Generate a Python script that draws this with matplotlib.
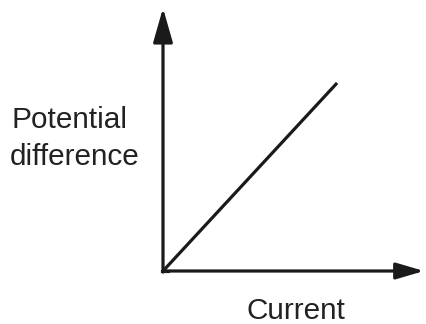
import matplotlib
matplotlib.use("Agg")
import matplotlib.pyplot as plt
from matplotlib.patches import FancyArrowPatch

# Data: proportional relation (Ohm's law sketch)
current = [0.0, 0.667]
potential_difference = [0.0, 0.715]
x_label = "Current"
y_label = "Potential\ndifference"

W, H = 426, 324
fig = plt.figure(figsize=(W / 100, H / 100), dpi=100)
fig.patch.set_facecolor("white")

ox, oy = 163, 271      # origin in pixels (from top-left)
xt, yt = 424, 8        # arrow tips
ax = fig.add_axes([ox / W, 1 - oy / H, (xt - ox) / W, (oy - yt) / H])
ax.set_xlim(0, 1)
ax.set_ylim(0, 1)
ax.axis("off")

col = "#1a1a1a"
lw = 2.3
ax.plot(current, potential_difference, color=col, lw=lw, solid_capstyle="butt")

ax.add_patch(FancyArrowPatch((0, 0), (1, 0), transform=ax.transAxes,
                             arrowstyle="-|>,head_length=17,head_width=5.0",
                             mutation_scale=1, color=col, lw=lw,
                             shrinkA=0, shrinkB=0, clip_on=False))
ax.add_patch(FancyArrowPatch((0, -0.004), (0, 1), transform=ax.transAxes,
                             arrowstyle="-|>,head_length=21,head_width=6.0",
                             mutation_scale=1, color=col, lw=lw,
                             shrinkA=0, shrinkB=0, clip_on=False))
ax.plot([-0.004, 0.02], [0, 0], color=col, lw=lw, clip_on=False)

fs = 21.4
fam = ["Liberation Sans", "DejaVu Sans"]
lines = y_label.split("\n")
fig.text(11 / W, 1 - 128 / H, lines[0], fontsize=fs, family=fam, color="#222222",
         ha="left", va="baseline")
fig.text(10 / W, 1 - 165 / H, lines[1], fontsize=fs, family=fam, color="#222222",
         ha="left", va="baseline")
fig.text(246 / W, 1 - 319 / H, x_label, fontsize=fs, family=fam, color="#222222",
         ha="left", va="baseline")

fig.savefig("out.png", dpi=100, facecolor="white")
